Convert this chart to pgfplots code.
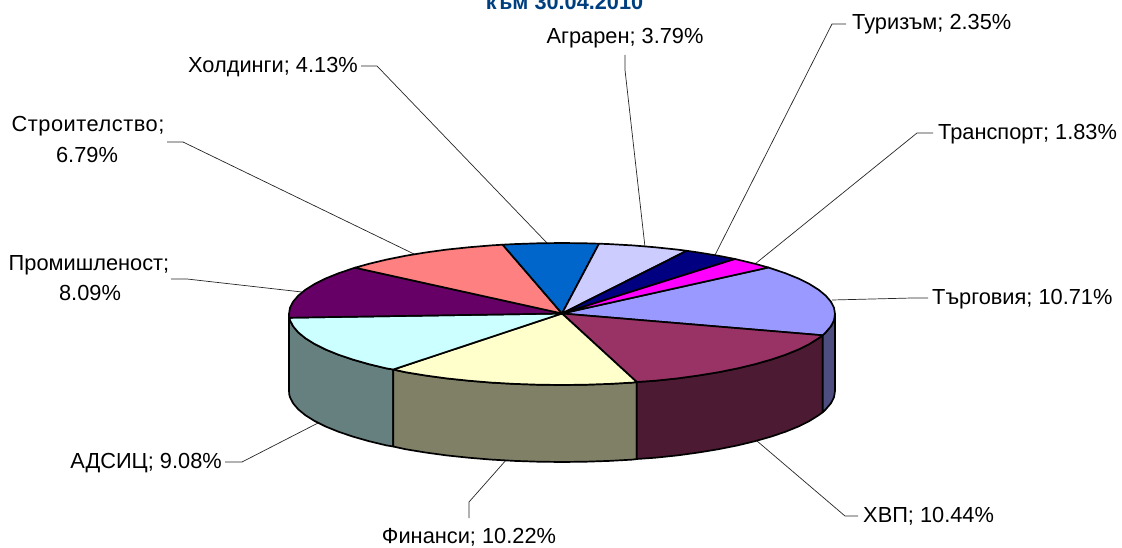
\documentclass[border=0pt]{standalone}
\usepackage{fontspec}
\setmainfont{Liberation Sans}
\usepackage{pgfplots}
\pgfplotsset{compat=1.18}
\definecolor{ttl}{HTML}{003F7F}
\definecolor{sa}{HTML}{668080}
\definecolor{sb}{HTML}{808066}
\definecolor{sc}{HTML}{4D1A33}
\definecolor{sd}{HTML}{4D4D80}
\definecolor{ca}{HTML}{9999FF}
\definecolor{cb}{HTML}{993366}
\definecolor{cc}{HTML}{FFFFCC}
\definecolor{cd}{HTML}{CCFFFF}
\definecolor{ce}{HTML}{660066}
\definecolor{cf}{HTML}{FF8080}
\definecolor{cg}{HTML}{0066CC}
\definecolor{ch}{HTML}{CCCCFF}
\definecolor{ci}{HTML}{000080}
\definecolor{cj}{HTML}{FF00FF}
\tikzset{
  slice/.style={fill=#1,draw=black,line width=1.7pt,line join=round,mark=none},
  lead/.style={draw=black!85,line width=0.7pt,mark=none},
  lab/.style={font=\fontsize{21.8}{26}\selectfont,inner sep=0pt,black}
}
\begin{document}
\begin{tikzpicture}
\useasboundingbox (0,0) rectangle (1122pt,548pt);
\begin{axis}[at={(0pt,0pt)},anchor=south west,scale only axis,width=1122pt,height=548pt,
  xmin=0,xmax=1122,ymin=0,ymax=548,y dir=reverse,hide axis,clip=false]
% leader lines
\addplot[lead] coordinates {(361,66)(377,66)(547,243)};
\addplot[lead] coordinates {(167,142)(183,142)(414,254)};
\addplot[lead] coordinates {(171,279)(187,279)(302,292)};
\addplot[lead] coordinates {(225,462)(242,462)(318,423)};
\addplot[lead] coordinates {(469,518)(469,502)(507,459)};
\addplot[lead] coordinates {(858,516)(845,516)(757,441)};
\addplot[lead] coordinates {(928,298)(912,298)(832,300)};
\addplot[lead] coordinates {(933,133)(917,133)(755,264)};
\addplot[lead] coordinates {(846,24)(832,24)(715,255)};
\addplot[lead] coordinates {(625,55)(625,70)(645,247)};
% side faces
\addplot[slice=sa] coordinates {(289,314)(289.3,317.7)(290,320.2)(293.1,326.3)(298.3,332.4)(305.5,338.3)(314.6,344)(325.6,349.5)(338.4,354.7)(352.9,359.6)(369,364.2)(386.5,368.4)(393.3,369.5)(393.3,446.5)(386.5,445.4)(369,441.2)(352.9,436.6)(338.4,431.7)(325.6,426.5)(314.6,421)(305.5,415.3)(298.3,409.4)(293.1,403.3)(290,397.2)(289.3,394.7)(289,391)} --cycle;
\addplot[slice=sb] coordinates {(393.3,369.5)(405.4,372.2)(425.5,375.5)(446.6,378.4)(468.6,380.7)(491.3,382.6)(514.6,383.9)(538.2,384.7)(562,385)(585.8,384.7)(609.4,383.9)(632.7,382.6)(636.7,382)(636.7,459)(632.7,459.6)(609.4,460.9)(585.8,461.7)(562,462)(538.2,461.7)(514.6,460.9)(491.3,459.6)(468.6,457.7)(446.6,455.4)(425.5,452.5)(405.4,449.2)(393.3,446.5)} --cycle;
\addplot[slice=sc] coordinates {(636.7,382)(655.4,380.7)(677.4,378.4)(698.5,375.5)(718.6,372.2)(737.5,368.4)(755,364.2)(771.1,359.6)(785.6,354.7)(798.4,349.5)(809.4,344)(818.5,338.3)(822.7,335.3)(822.7,412.3)(818.5,415.3)(809.4,421)(798.4,426.5)(785.6,431.7)(771.1,436.6)(755,441.2)(737.5,445.4)(718.6,449.2)(698.5,452.5)(677.4,455.4)(655.4,457.7)(636.7,459)} --cycle;
\addplot[slice=sd] coordinates {(822.7,335.3)(825.7,332.4)(830.9,326.3)(834,320.2)(835,314)(835,391)(834,397.2)(830.9,403.3)(825.7,409.4)(822.7,412.3)} --cycle;
% top faces
\addplot[slice=ca] coordinates {(562,313.5)(822.7,335.3)(825.7,332.4)(830.9,326.3)(834,320.2)(835,314)(834,307.8)(830.9,301.7)(825.7,295.6)(818.5,289.7)(809.4,284)(798.4,278.5)(785.6,273.3)(771.1,268.4)(768.3,267.5)} --cycle;
\addplot[slice=cb] coordinates {(562,313.5)(636.7,382)(655.4,380.7)(677.4,378.4)(698.5,375.5)(718.6,372.2)(737.5,368.4)(755,364.2)(771.1,359.6)(785.6,354.7)(798.4,349.5)(809.4,344)(818.5,338.3)(822.7,335.3)} --cycle;
\addplot[slice=cc] coordinates {(562,313.5)(393.3,369.5)(405.4,372.2)(425.5,375.5)(446.6,378.4)(468.6,380.7)(491.3,382.6)(514.6,383.9)(538.2,384.7)(562,385)(585.8,384.7)(609.4,383.9)(632.7,382.6)(636.7,382)} --cycle;
\addplot[slice=cd] coordinates {(562,313.5)(289.3,317.7)(290,320.2)(293.1,326.3)(298.3,332.4)(305.5,338.3)(314.6,344)(325.6,349.5)(338.4,354.7)(352.9,359.6)(369,364.2)(386.5,368.4)(393.3,369.5)} --cycle;
\addplot[slice=ce] coordinates {(562,313.5)(355,267.7)(352.9,268.4)(338.4,273.3)(325.6,278.5)(314.6,284)(305.5,289.7)(298.3,295.6)(293.1,301.7)(290,307.8)(289,314)(289.3,317.7)} --cycle;
\addplot[slice=cf] coordinates {(562,313.5)(502.7,244.7)(491.3,245.4)(468.6,247.3)(446.6,249.6)(425.5,252.5)(405.4,255.8)(386.5,259.6)(369,263.8)(355,267.7)} --cycle;
\addplot[slice=cg] coordinates {(562,313.5)(599,243.7)(585.8,243.3)(562,243)(538.2,243.3)(514.6,244.1)(502.7,244.7)} --cycle;
\addplot[slice=ch] coordinates {(562,313.5)(686.7,250.8)(677.4,249.6)(655.4,247.3)(632.7,245.4)(609.4,244.1)(599,243.7)} --cycle;
\addplot[slice=ci] coordinates {(562,313.5)(735,259)(718.6,255.8)(698.5,252.5)(686.7,250.8)} --cycle;
\addplot[slice=cj] coordinates {(562,313.5)(768.3,267.5)(755,263.8)(737.5,259.6)(735,259)} --cycle;
% labels
\node[lab,anchor=base] at (axis cs:625,44) {Аграрен; 3.79\%};
\node[lab,anchor=base east] at (axis cs:358,72.3) {Холдинги; 4.13\%};
\node[lab,anchor=base] at (axis cs:88,131.7) {\addfontfeature{LetterSpace=2.5}Строителство;};
\node[lab,anchor=base] at (axis cs:87,162.3) {6.79\%};
\node[lab,anchor=base] at (axis cs:89,270) {Промишленост;};
\node[lab,anchor=base] at (axis cs:90,300) {8.09\%};
\node[lab,anchor=base west] at (axis cs:852,30) {Туризъм; 2.35\%};
\node[lab,anchor=base west] at (axis cs:938,139.3) {Транспорт; 1.83\%};
\node[lab,anchor=base west] at (axis cs:932,304) {Търговия; 10.71\%};
\node[lab,anchor=base west] at (axis cs:863,522) {ХВП; 10.44\%};
\node[lab,anchor=base] at (axis cs:469,543) {Финанси; 10.22\%};
\node[lab,anchor=base east] at (axis cs:222,468) {АДСИЦ; 9.08\%};
\node[anchor=base,inner sep=0pt,text=ttl,font=\fontsize{21.7}{26}\selectfont\bfseries] at (axis cs:564.5,9.5) {към 30.04.2010};
\end{axis}
\end{tikzpicture}
\end{document}
